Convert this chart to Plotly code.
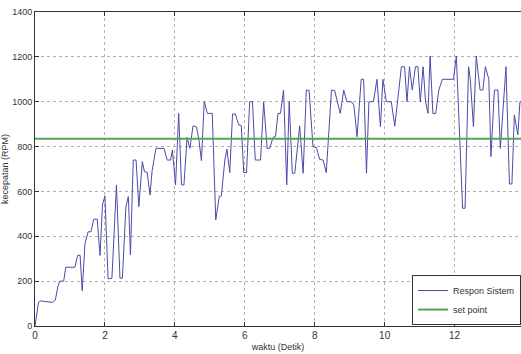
import plotly.graph_objects as go

# Response data (time in s, speed in RPM)
waktu = [0.0, 0.05, 0.1, 0.15, 0.25, 0.35, 0.5, 0.58, 0.66, 0.71, 0.82, 0.88, 1.14, 1.22, 1.29,
         1.35, 1.43, 1.52, 1.6, 1.68, 1.78, 1.86, 1.93, 2.0, 2.09, 2.2, 2.33, 2.43, 2.5, 2.6,
         2.67, 2.73, 2.81, 2.89, 2.97, 3.07, 3.13, 3.21, 3.29, 3.35, 3.46, 3.69, 3.78, 3.88, 3.93,
         4.02, 4.11, 4.19, 4.26, 4.35, 4.43, 4.52, 4.62, 4.69, 4.76, 4.84, 4.93, 5.07, 5.17, 5.27,
         5.33, 5.43, 5.49, 5.57, 5.65, 5.73, 5.83, 5.9, 5.97, 6.05, 6.14, 6.22, 6.3, 6.45, 6.54,
         6.64, 6.71, 6.81, 6.88, 6.95, 7.02, 7.11, 7.2, 7.27, 7.36, 7.43, 7.5, 7.57, 7.67, 7.76,
         7.84, 7.95, 8.05, 8.14, 8.24, 8.33, 8.48, 8.57, 8.73, 8.83, 8.92, 9.05, 9.12, 9.21, 9.33,
         9.4, 9.48, 9.55, 9.68, 9.78, 9.88, 9.95, 10.05, 10.19, 10.29, 10.48, 10.57, 10.64, 10.71, 10.79,
         10.88, 10.95, 11.02, 11.1, 11.17, 11.24, 11.3, 11.38, 11.46, 11.55, 11.65, 11.97, 12.05, 12.12, 12.17,
         12.23, 12.3, 12.4, 12.45, 12.54, 12.62, 12.73, 12.81, 12.88, 12.98, 13.04, 13.14, 13.24, 13.31, 13.38,
         13.47, 13.57, 13.64, 13.71, 13.81, 13.87, 13.95]
respon = [0, 60, 105, 112, 110, 105, 105, 115, 180, 200, 200, 262, 262, 315, 315,
          157, 369, 420, 420, 476, 476, 315, 540, 580, 210, 213, 629, 213, 213, 532,
          577, 317, 740, 740, 532, 733, 688, 685, 584, 693, 792, 792, 740, 740, 785,
          629, 948, 629, 629, 841, 792, 892, 888, 829, 737, 1000, 948, 948, 473, 577,
          580, 740, 788, 684, 945, 945, 896, 893, 684, 684, 1000, 1000, 740, 740, 998,
          792, 792, 841, 845, 948, 948, 1052, 629, 1000, 681, 681, 785, 892, 681, 1052,
          1050, 800, 795, 743, 740, 684, 1052, 1050, 948, 1052, 1000, 1000, 985, 844, 1100,
          1100, 681, 1000, 1000, 1100, 889, 1100, 1000, 1000, 891, 1156, 1156, 1000, 1156, 1052,
          1156, 1156, 1000, 1156, 1000, 948, 1204, 948, 948, 1052, 1100, 1100, 1204, 950, 700,
          525, 525, 1156, 1100, 889, 1204, 1052, 1052, 1156, 1100, 755, 1052, 1052, 792, 948,
          1156, 633, 633, 941, 852, 1000, 1000]

set_point_value = 835
x_range = [0, 13.9]
y_ticks = [0, 200, 400, 600, 800, 1000, 1200, 1400]
x_ticks = [0, 2, 4, 6, 8, 10, 12]

FONT = "Liberation Sans, Arial, sans-serif"

fig = go.Figure()
fig.add_trace(go.Scatter(x=waktu, y=respon, mode="lines", name="Respon Sistem",
                         line=dict(color="#4b4ba8", width=1)))
fig.add_trace(go.Scatter(x=x_range, y=[set_point_value, set_point_value], mode="lines",
                         name="set point", line=dict(color="#5a9e5a", width=2)))

fig.update_layout(
    width=521, height=354,
    margin=dict(l=35, r=0, t=12, b=28),
    paper_bgcolor="white", plot_bgcolor="white",
    font=dict(family=FONT, size=10, color="#333333"),
    showlegend=True,
    legend=dict(x=1, y=0.003, xanchor="right", yanchor="bottom",
                bgcolor="white", bordercolor="#333333", borderwidth=1,
                font=dict(family=FONT, size=9, color="#333333"),
                tracegroupgap=0, itemwidth=30),
)
fig.update_xaxes(range=x_range, tickvals=x_ticks, ticks="inside", ticklen=4,
                 tickcolor="#333333", showline=True, linecolor="#333333", linewidth=1,
                 mirror="ticks", showgrid=True, gridcolor="#b0b0b0", griddash="dot",
                 gridwidth=1, zeroline=False, automargin=False,
                 tickfont=dict(size=10), ticklabeloverflow="allow",
                 title=dict(text="waktu (Detik)", font=dict(size=9), standoff=3))
fig.update_yaxes(range=[0, 1400], tickvals=y_ticks, ticks="inside", ticklen=4,
                 tickcolor="#333333", showline=True, linecolor="#333333", linewidth=1,
                 showgrid=True, gridcolor="#b0b0b0", griddash="dot", gridwidth=1,
                 zeroline=False, automargin=False,
                 tickfont=dict(size=9), ticklabeloverflow="allow",
                 title=dict(text="kecepatan (RPM)", font=dict(size=9), standoff=6))

# remove the page's default body margin so the figure fills the window exactly
fig.write_html("out.html", config={"displayModeBar": False},
               post_script="document.body.style.margin='0';document.body.style.overflow='hidden';")
